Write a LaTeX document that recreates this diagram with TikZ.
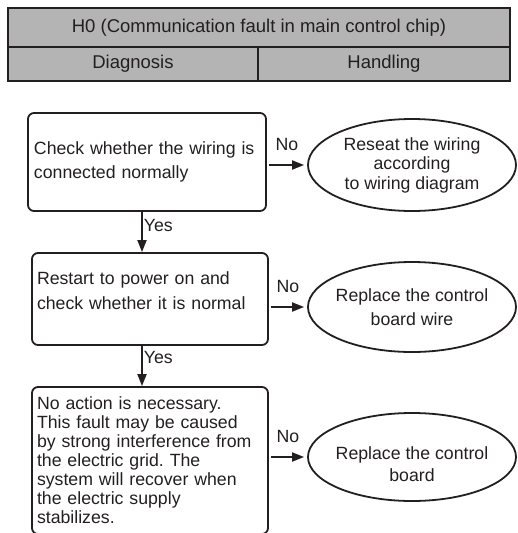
\documentclass[tikz,border=0pt]{standalone}
\usepackage{fontspec}
\setmainfont{Liberation Sans}
\usepackage{xcolor}
\usetikzlibrary{arrows.meta,positioning,calc,shapes.geometric}
\definecolor{ink}{RGB}{35,31,32}
\definecolor{headgray}{RGB}{180,180,180}
\frenchspacing

\begin{document}
\begin{tikzpicture}[x=1pt, y=-1pt, font=\fontsize{17.7}{19}\selectfont, >={Triangle[length=12pt,width=9pt]},
  head/.style={draw=ink, line width=1.6pt, fill=headgray, text=ink, inner sep=0pt, font=\fontsize{18.5}{20}\selectfont},
  check/.style={draw=ink, line width=1.8pt, rounded corners=6pt, align=left, text=ink, inner xsep=4pt, text width=226pt},
  result/.style={draw=ink, ellipse, line width=1.8pt, align=center, text=ink, minimum width=208pt, inner xsep=-8pt, inner ysep=0pt},
  line/.style={->, draw=ink, line width=1.8pt},
  tag/.style={text=ink, inner sep=1pt}]
\useasboundingbox (0,0) rectangle (518,533);

% header table
\node[head, minimum width=502pt, minimum height=39pt] (title) at (259,27.5) {H0 (Communication fault in main control chip)};
\node[head, minimum width=250pt, minimum height=34pt] (diag) at (133,64) {Diagnosis};
\node[head, minimum width=252pt, minimum height=34pt] (handl) at (384,64) {Handling};

% diagnosis steps
\node[check, minimum width=238pt, minimum height=98pt, font=\fontsize{17.7}{24}\selectfont] (wiring) at (147,162) {Check whether the wiring is\\connected normally};
\node[check, minimum width=236pt, minimum height=92pt, text depth=41pt, font=\fontsize{17.7}{25}\selectfont] (power) at (150,299) {Restart to power on and\\check whether it is normal};
\node[check, minimum width=236pt, minimum height=147pt] (grid) at (150,460.5) {No action is necessary.\\This fault may be caused\\by strong interference from\\the electric grid. The\\system will recover when\\the electric supply\\stabilizes.};

% handling
\node[result, minimum height=92pt, font=\fontsize{17.7}{19.5}\selectfont] (reseat) at (412,165) {Reseat the wiring\\according\\to wiring diagram};
\node[result, minimum height=90pt, font=\fontsize{17.7}{24}\selectfont] (wire) at (412,307) {Replace the control\\board wire};
\node[result, minimum height=88pt, text height=50pt, font=\fontsize{17.7}{22}\selectfont] (board) at (412,457) {Replace the control\\board};

\draw[line, shorten <=2pt, shorten >=3pt] (wiring.east |- reseat.west) -- node[tag, above=12pt] {No} (reseat.west);
\draw[line, shorten <=2pt, shorten >=3pt] (power.east |- wire.west) -- node[tag, above=12pt] {No} (wire.west);
\draw[line, shorten <=2pt, shorten >=3pt] (grid.east |- board.west) -- node[tag, above=12pt] {No} (board.west);

\draw[line] ([xshift=-5pt]wiring.south) -- node[tag, pos=0.35, right] {Yes} ([xshift=-5pt]wiring.south |- power.north);
\draw[line] ([xshift=-8pt]power.south) -- node[tag, pos=0.3, right] {Yes} ([xshift=-8pt]power.south |- grid.north);
\end{tikzpicture}
\end{document}
